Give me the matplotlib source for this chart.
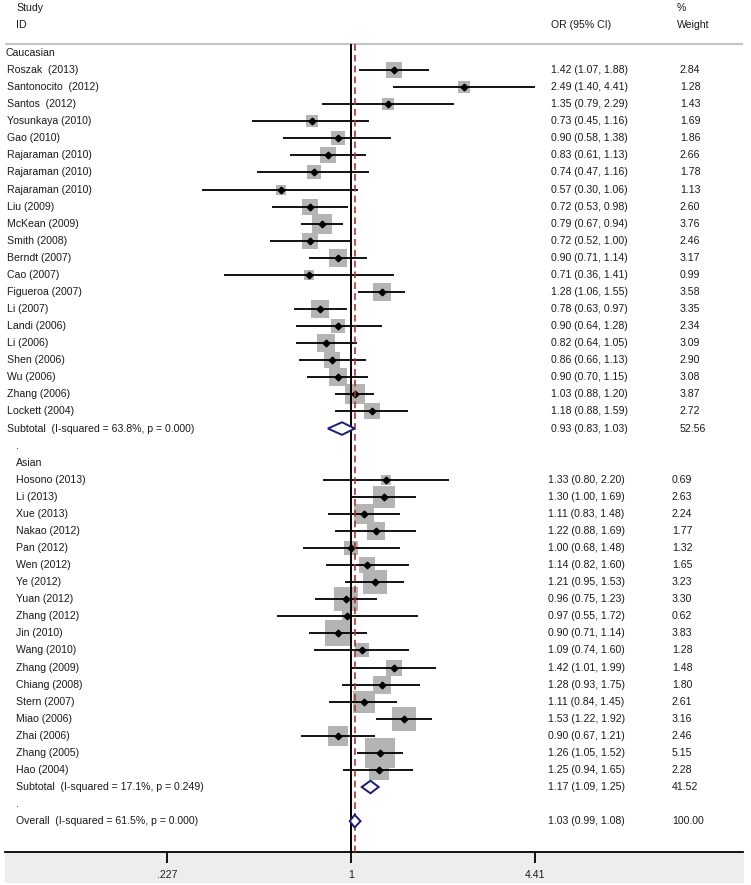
import matplotlib
matplotlib.use("Agg")
import matplotlib.pyplot as plt
from matplotlib.patches import Rectangle

plt.rcParams["font.family"] = ["Liberation Sans", "DejaVu Sans"]

# --- data -----------------------------------------------------------------
cau_names = ["Roszak  (2013)", "Santonocito  (2012)", "Santos  (2012)", "Yosunkaya (2010)",
             "Gao (2010)", "Rajaraman (2010)", "Rajaraman (2010)", "Rajaraman (2010)",
             "Liu (2009)", "McKean (2009)", "Smith (2008)", "Berndt (2007)", "Cao (2007)",
             "Figueroa (2007)", "Li (2007)", "Landi (2006)", "Li (2006)", "Shen (2006)",
             "Wu (2006)", "Zhang (2006)", "Lockett (2004)"]
cau_or = [1.42, 2.49, 1.35, 0.73, 0.90, 0.83, 0.74, 0.57, 0.72, 0.79, 0.72, 0.90, 0.71,
          1.28, 0.78, 0.90, 0.82, 0.86, 0.90, 1.03, 1.18]
cau_lo = [1.07, 1.40, 0.79, 0.45, 0.58, 0.61, 0.47, 0.30, 0.53, 0.67, 0.52, 0.71, 0.36,
          1.06, 0.63, 0.64, 0.64, 0.66, 0.70, 0.88, 0.88]
cau_hi = [1.88, 4.41, 2.29, 1.16, 1.38, 1.13, 1.16, 1.06, 0.98, 0.94, 1.00, 1.14, 1.41,
          1.55, 0.97, 1.28, 1.05, 1.13, 1.15, 1.20, 1.59]
cau_w = [2.84, 1.28, 1.43, 1.69, 1.86, 2.66, 1.78, 1.13, 2.60, 3.76, 2.46, 3.17, 0.99,
         3.58, 3.35, 2.34, 3.09, 2.90, 3.08, 3.87, 2.72]
cau_sub = ("Subtotal  (I-squared = 63.8%, p = 0.000)", 0.93, 0.83, 1.03, 52.56)

asi_names = ["Hosono (2013)", "Li (2013)", "Xue (2013)", "Nakao (2012)", "Pan (2012)",
             "Wen (2012)", "Ye (2012)", "Yuan (2012)", "Zhang (2012)", "Jin (2010)",
             "Wang (2010)", "Zhang (2009)", "Chiang (2008)", "Stern (2007)", "Miao (2006)",
             "Zhai (2006)", "Zhang (2005)", "Hao (2004)"]
asi_or = [1.33, 1.30, 1.11, 1.22, 1.00, 1.14, 1.21, 0.96, 0.97, 0.90, 1.09, 1.42, 1.28,
          1.11, 1.53, 0.90, 1.26, 1.25]
asi_lo = [0.80, 1.00, 0.83, 0.88, 0.68, 0.82, 0.95, 0.75, 0.55, 0.71, 0.74, 1.01, 0.93,
          0.84, 1.22, 0.67, 1.05, 0.94]
asi_hi = [2.20, 1.69, 1.48, 1.69, 1.48, 1.60, 1.53, 1.23, 1.72, 1.14, 1.60, 1.99, 1.75,
          1.45, 1.92, 1.21, 1.52, 1.65]
asi_w = [0.69, 2.63, 2.24, 1.77, 1.32, 1.65, 3.23, 3.30, 0.62, 3.83, 1.28, 1.48, 1.80,
         2.61, 3.16, 2.46, 5.15, 2.28]
asi_sub = ("Subtotal  (I-squared = 17.1%, p = 0.249)", 1.17, 1.09, 1.25, 41.52)

overall = ("Overall  (I-squared = 61.5%, p = 0.000)", 1.03, 0.99, 1.08, 100.00)

tick_vals = [0.227, 1, 4.41]
tick_labels = [".227", "1", "4.41"]

# --- layout (pixels) ------------------------------------------------------
W, H = 751, 885
LEFT, RIGHT, BOTTOM = 5, 743, 852
ROW0, DY = 53, 17.07
FS = 7.6
TXT = "#1a1a1a"
NAVY = "#1c1c78"

fig = plt.figure(figsize=(W / 100, H / 100), dpi=100)
# light grey band under the axis, drawn behind the axes
fig.patches.append(Rectangle((LEFT / W, 1 - 882 / H), (RIGHT - LEFT) / W, 30 / H,
                             transform=fig.transFigure, color="#ededed", zorder=-5))
ax = fig.add_axes([LEFT / W, 1 - BOTTOM / H, (RIGHT - LEFT) / W, BOTTOM / H])
ax.set_xscale("log")
# 1 sits at x=351 px, 285.5 px per decade
ax.set_xlim(10 ** ((LEFT - 351) / 285.5), 10 ** ((RIGHT - 351) / 285.5))
ytop, ybot = (0 - ROW0) / DY, (BOTTOM - ROW0) / DY
ax.set_ylim(ybot, ytop)
tr = ax.get_yaxis_transform()


def fx(px):
    return (px - LEFT) / (RIGHT - LEFT)


def txt(px, row, s):
    ax.text(fx(px), row, s, transform=tr, fontsize=FS, color=TXT, va="center", ha="left")


def ci_text(o, lo, hi):
    return f"{o:.2f} ({lo:.2f}, {hi:.2f})"


# header
hdr = (44 - ROW0) / DY
txt(16, (8 - ROW0) / DY, "Study")
txt(16, (25 - ROW0) / DY, "ID")
txt(551, (25 - ROW0) / DY, "OR (95% CI)")
txt(677, (8 - ROW0) / DY, "%")
txt(677, (25 - ROW0) / DY, "Weight")
ax.axhline(hdr, color="#c4c4c4", lw=1.5)

# reference lines
ax.vlines(1, hdr, ybot, color="black", lw=1.4, zorder=5)
ax.vlines(overall[1], hdr, ybot, color="#b03030", lw=1.2, linestyles=(0, (4, 2.5)), zorder=5)


def diamond(r, item):
    _, o, lo, hi, _ = item
    h = 6.3 / DY
    ax.fill([lo, o, hi, o, lo], [r, r - h, r, r + h, r], facecolor="white",
            edgecolor=NAVY, lw=1.4, zorder=6)


def draw_group(start, title, names, ors, los, his, ws, sub, lx, ox, wx, k):
    txt(lx - 2 if lx < 10 else lx, start, title)
    for j, (n, o, lo, hi, w) in enumerate(zip(names, ors, los, his, ws)):
        r = start + 1 + j
        txt(lx, r, n)
        side = k * w ** 0.5 * 0.72
        ax.scatter([o], [r], s=side ** 2, marker="s", color="#b4b4b4", lw=0, zorder=2)
        ax.hlines(r, lo, hi, color="black", lw=1.3, zorder=3)
        ax.plot([o], [r], marker="D", ms=3.4, color="black", zorder=4)
        txt(ox, r, ci_text(o, lo, hi))
        txt(wx, r, f"{w:.2f}")
    r = start + 1 + len(names)
    diamond(r, sub)
    txt(lx, r, sub[0])
    txt(ox, r, ci_text(*sub[1:4]))
    txt(wx, r, f"{sub[4]:.2f}")
    return r


r = draw_group(0, "Caucasian", cau_names, cau_or, cau_lo, cau_hi, cau_w, cau_sub,
               7, 551, 680, 9.8)
txt(16, r + 1, ".")
r = draw_group(r + 2, "Asian", asi_names, asi_or, asi_lo, asi_hi, asi_w, asi_sub,
               16, 548, 672, 13.0)
txt(16, r + 1, ".")
r += 2
diamond(r, overall)
txt(16, r, overall[0])
txt(548, r, ci_text(*overall[1:4]))
txt(672, r, f"{overall[4]:.2f}")

# axis
for sp in ["top", "left", "right"]:
    ax.spines[sp].set_visible(False)
ax.spines["bottom"].set_linewidth(1.3)
ax.set_yticks([])
ax.set_xticks(tick_vals)
ax.set_xticklabels(tick_labels)
ax.xaxis.set_minor_locator(matplotlib.ticker.NullLocator())
ax.tick_params(axis="x", direction="out", length=8, width=1.3, labelsize=FS, pad=5,
               labelcolor=TXT)

fig.savefig("out.png", dpi=100, facecolor="white")
